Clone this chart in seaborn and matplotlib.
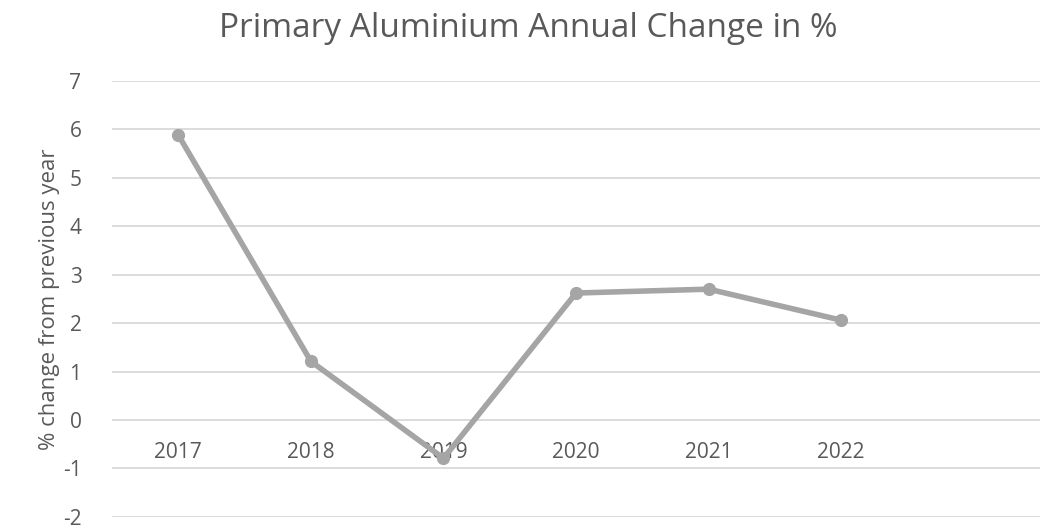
import matplotlib.pyplot as plt
import seaborn as sns
import pandas as pd

years = ["2017", "2018", "2019", "2020", "2021", "2022"]
change_pct = [5.88, 1.21, -0.79, 2.62, 2.70, 2.06]

TEXT = "#595959"
LINE = "#a5a5a5"
GRID = "#d9d9d9"

sns.set_theme(style="white")
plt.rcParams["font.family"] = ["Open Sans", "DejaVu Sans"]
plt.rcParams["axes.unicode_minus"] = False

df = pd.DataFrame({"year": years, "change": change_pct})

fig = plt.figure(figsize=(10.57, 5.28), dpi=100)
ax = fig.add_axes([0.106, 0.021, 0.878, 0.826])

sns.lineplot(data=df, x="year", y="change", ax=ax, color=LINE, linewidth=4,
             marker="o", markersize=9.5, markeredgewidth=0, sort=False)

ax.set_ylim(-2, 7)
ax.set_xlim(-0.5, 6.5)
ax.set_yticks(range(-2, 8))
ax.yaxis.grid(True, color=GRID, linewidth=1.3)
ax.set_axisbelow(True)
for s in ax.spines.values():
    s.set_visible(False)

# category labels sit on the zero line, like Excel
ax.spines["bottom"].set_position(("data", 0))
ax.set_xticks(range(len(years)))
ax.set_xticklabels(years)
ax.tick_params(axis="x", length=0, pad=16, labelsize=15, labelcolor=TEXT)
ax.tick_params(axis="y", length=0, pad=22, labelsize=15, labelcolor=TEXT)
ax.set_xlabel("")
ax.set_ylabel("% change from previous year", fontsize=16, color=TEXT, labelpad=2)

fig.suptitle("Primary Aluminium Annual Change in %", fontsize=24, color=TEXT, y=0.978)

fig.savefig("out.png", dpi=100)
plt.close(fig)
